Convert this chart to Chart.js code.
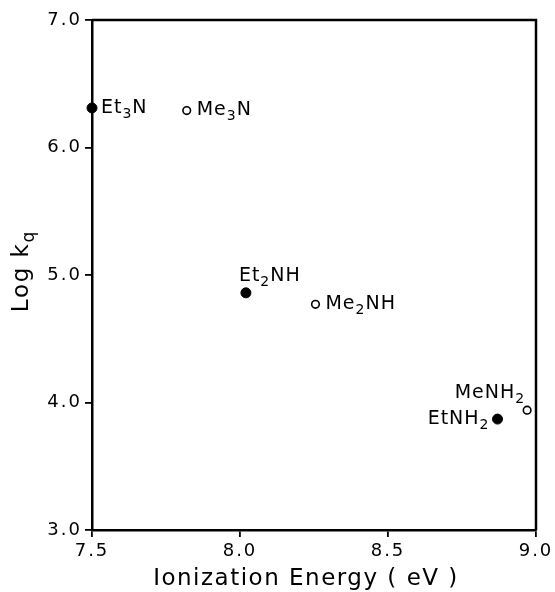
<!DOCTYPE html>
<html>
<head>
<meta charset="utf-8">
<script src="https://cdn.jsdelivr.net/npm/chart.js@4/dist/chart.umd.min.js"></script>
<style>
  html, body { margin: 0; padding: 0; background: #fff; }
  #wrap { width: 555px; height: 592px; }
</style>
</head>
<body>
<div id="wrap"><canvas id="myChart" width="555" height="592"></canvas></div>
<script>
// Quenching data: ethyl amines (filled) and methyl amines (open)
const ethylNames = ['Et_3N', 'Et_2NH', 'EtNH_2'];
const ethylIE = [7.50, 8.02, 8.87];
const ethylLogKq = [6.31, 4.86, 3.87];

const methylNames = ['Me_3N', 'Me_2NH', 'MeNH_2'];
const methylIE = [7.82, 8.255, 8.97];
const methylLogKq = [6.29, 4.77, 3.94];

const xTicks = [7.5, 8.0, 8.5, 9.0];
const yTicks = [3.0, 4.0, 5.0, 6.0, 7.0];

const fontFamily = "'DejaVu Sans', sans-serif";

// where each label sits relative to its point
const ethylLabelPos = [
  { dx: 9, dy: 0, align: 'left' },
  { dx: -7, dy: -17, align: 'left' },
  { dx: -9, dy: 0, align: 'right' }
];
const methylLabelPos = [
  { dx: 10, dy: 0, align: 'left' },
  { dx: 10, dy: 0, align: 'left' },
  { dx: -3, dy: -17, align: 'right' }
];

function toPoints(xs, ys) {
  return xs.map((x, i) => ({ x: x, y: ys[i] }));
}

// draw a string where "_n" makes n a subscript
function drawSubText(ctx, text, x, y, size, align, spacing) {
  const parts = [];
  for (let i = 0; i < text.length; i++) {
    if (text[i] === '_' && i + 1 < text.length) {
      parts.push({ t: text[i + 1], sub: true });
      i++;
    } else {
      parts.push({ t: text[i], sub: false });
    }
  }
  const big = size + 'px ' + fontFamily;
  const small = Math.round(size * 0.72) + 'px ' + fontFamily;
  let total = 0;
  parts.forEach(p => {
    ctx.font = p.sub ? small : big;
    p.w = ctx.measureText(p.t).width + spacing;
    total += p.w;
  });
  total -= spacing;
  let cx = align === 'right' ? x - total : (align === 'center' ? x - total / 2 : x);
  ctx.textBaseline = 'middle';
  ctx.textAlign = 'left';
  parts.forEach(p => {
    ctx.font = p.sub ? small : big;
    ctx.fillText(p.t, cx, p.sub ? y + size * 0.32 : y);
    cx += p.w;
  });
}

const labelPlugin = {
  id: 'labels',
  beforeDraw(chart) {
    // wide lettering for tick labels too
    chart.ctx.letterSpacing = '2px';
  },
  afterDraw(chart) {
    const ctx = chart.ctx;
    const area = chart.chartArea;
    ctx.save();
    ctx.letterSpacing = '0px';
    // top and right frame
    ctx.strokeStyle = '#000';
    ctx.lineWidth = 2.5;
    ctx.beginPath();
    ctx.moveTo(area.left, area.top);
    ctx.lineTo(area.right, area.top);
    ctx.lineTo(area.right, area.bottom);
    ctx.stroke();

    ctx.fillStyle = '#000';
    const sets = [
      { names: ethylNames, pos: ethylLabelPos, meta: chart.getDatasetMeta(0) },
      { names: methylNames, pos: methylLabelPos, meta: chart.getDatasetMeta(1) }
    ];
    sets.forEach(s => {
      s.meta.data.forEach((pt, i) => {
        const p = s.pos[i];
        drawSubText(ctx, s.names[i], pt.x + p.dx, pt.y + p.dy, 19, p.align, 1);
      });
    });

    // axis titles
    ctx.save();
    ctx.translate(22, 272);
    ctx.rotate(-Math.PI / 2);
    drawSubText(ctx, 'Log k_q', 0, 0, 23, 'center', 1.5);
    ctx.restore();

    ctx.font = '23px ' + fontFamily;
    ctx.letterSpacing = '1.5px';
    ctx.textAlign = 'center';
    ctx.textBaseline = 'middle';
    ctx.fillText('Ionization Energy ( eV )', 306, 579);
    ctx.restore();
  }
};

const ctx = document.getElementById('myChart').getContext('2d');

const myChart = new Chart(ctx, {
  type: 'scatter',
  data: {
    datasets: [{
      label: 'Ethyl amines',
      data: toPoints(ethylIE, ethylLogKq),
      pointRadius: 5,
      pointBackgroundColor: '#000',
      pointBorderColor: '#000',
      pointBorderWidth: 1,
      clip: false
    }, {
      label: 'Methyl amines',
      data: toPoints(methylIE, methylLogKq),
      pointRadius: 3.8,
      pointBackgroundColor: '#fff',
      pointBorderColor: '#000',
      pointBorderWidth: 1.6,
      clip: false
    }]
  },
  options: {
    responsive: false,
    animation: false,
    layout: { padding: { top: 20, right: 19, left: 0, bottom: 0 } },
    plugins: {
      legend: { display: false },
      tooltip: { enabled: false }
    },
    scales: {
      x: {
        type: 'linear',
        min: 7.5,
        max: 9.0,
        afterFit: scale => { scale.height = 62; },
        afterBuildTicks: scale => { scale.ticks = xTicks.map(v => ({ value: v })); },
        ticks: {
          color: '#000',
          font: { family: fontFamily, size: 18 },
          padding: 4,
          maxRotation: 0,
          callback: v => Number(v).toFixed(1)
        },
        grid: {
          drawOnChartArea: false,
          drawTicks: true,
          tickLength: 7,
          color: '#000',
          lineWidth: 1.8
        },
        border: { color: '#000', width: 2.5 }
      },
      y: {
        type: 'linear',
        min: 3.0,
        max: 7.0,
        afterFit: scale => { scale.width = 92; },
        afterBuildTicks: scale => { scale.ticks = yTicks.map(v => ({ value: v })); },
        ticks: {
          color: '#000',
          font: { family: fontFamily, size: 18 },
          padding: 3,
          callback: v => Number(v).toFixed(1)
        },
        grid: {
          drawOnChartArea: false,
          drawTicks: true,
          tickLength: 7,
          color: '#000',
          lineWidth: 1.8
        },
        border: { color: '#000', width: 2.5 }
      }
    }
  },
  plugins: [labelPlugin]
});
</script>
</body>
</html>
